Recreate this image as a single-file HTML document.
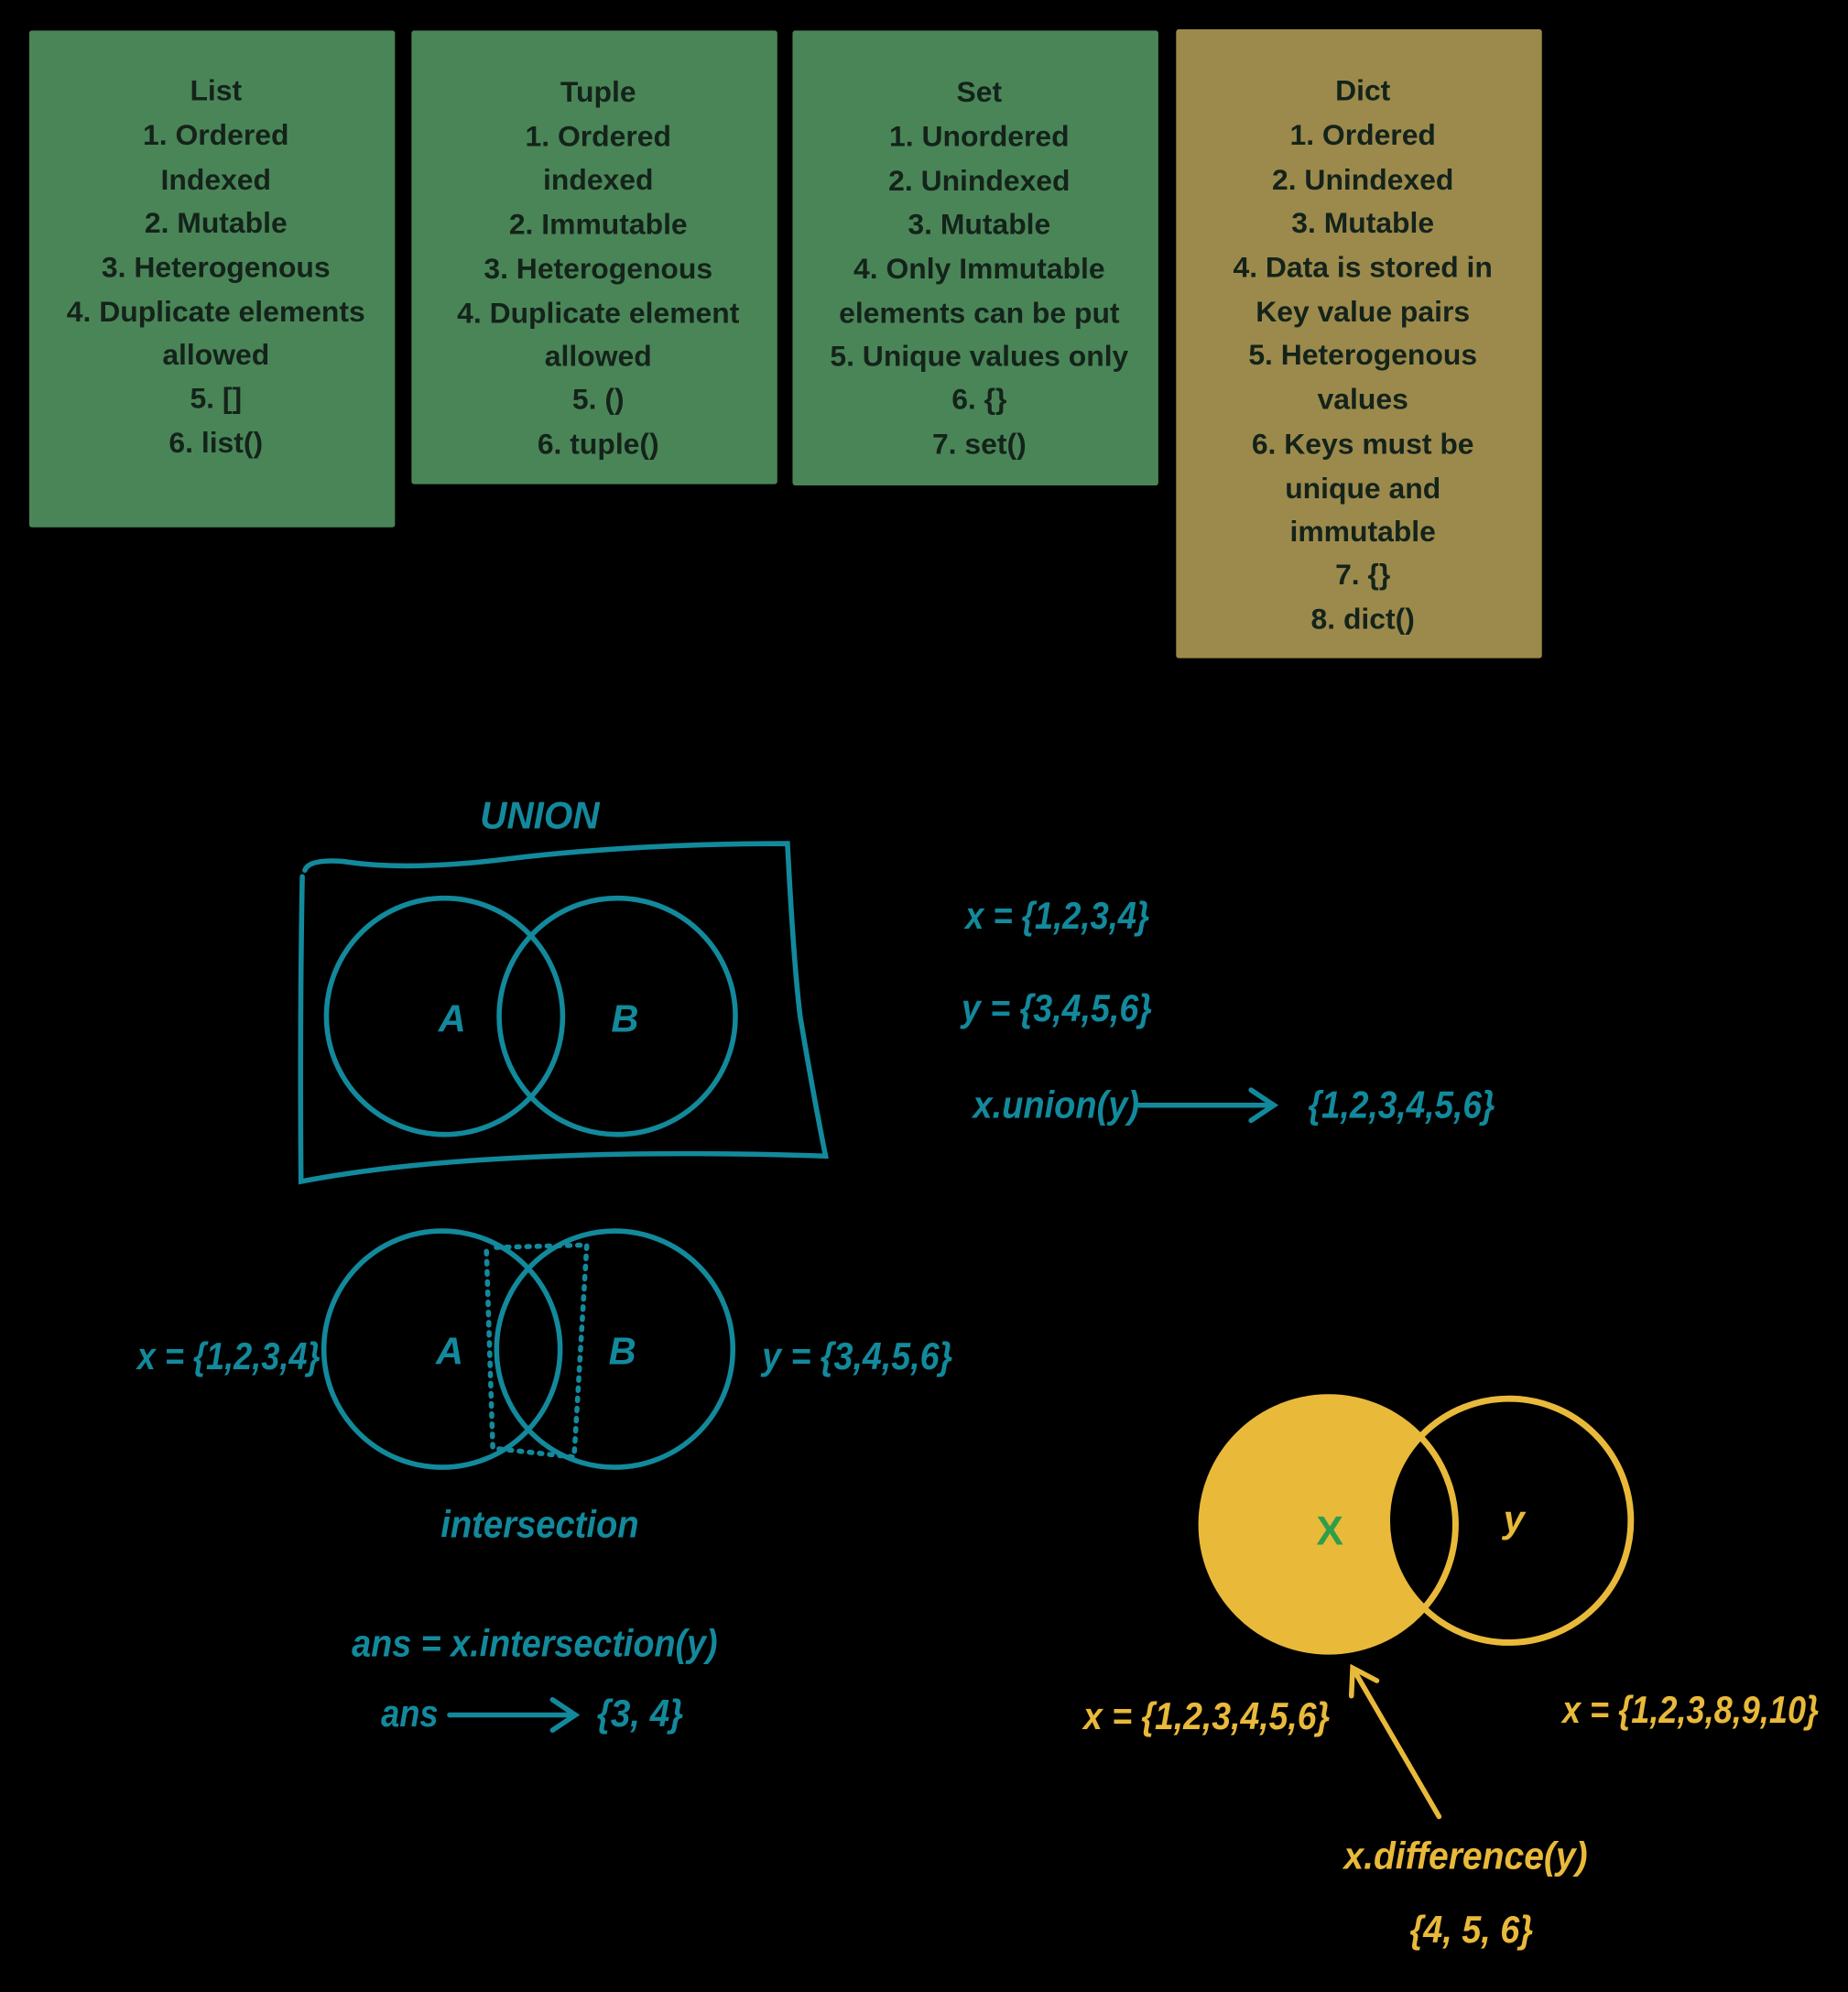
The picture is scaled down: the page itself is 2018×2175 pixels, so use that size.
<!DOCTYPE html>
<html><head><meta charset="utf-8"><style>
html,body{margin:0;padding:0;background:#000;}
svg{display:block}
.b{font-family:"Liberation Sans",sans-serif;font-size:23px;fill:#14231a;text-anchor:middle;font-weight:bold}
.t{font-family:"Liberation Sans",sans-serif;font-size:30px;fill:#13899c;font-weight:bold;font-style:italic}
.y{font-family:"Liberation Sans",sans-serif;font-size:30px;fill:#e9b93a;font-weight:bold;font-style:italic}
</style></head><body>
<svg width="2018" height="2175" viewBox="0 0 1455 1568" xmlns="http://www.w3.org/2000/svg">
<rect width="1455" height="1568" fill="#000"/>
<rect x="23" y="24" width="288" height="391" fill="#4a8558" rx="2"/>
<rect x="324" y="24" width="288" height="357" fill="#4a8558" rx="2"/>
<rect x="624" y="24" width="288" height="358" fill="#4a8558" rx="2"/>
<rect x="926" y="23" width="288" height="495" fill="#9c8a4c" rx="2"/>
<g class="b">
<text x="170" y="79">List</text><text x="170" y="114">1. Ordered</text><text x="170" y="149">Indexed</text><text x="170" y="183">2. Mutable</text><text x="170" y="218">3. Heterogenous</text><text x="170" y="253">4. Duplicate elements</text><text x="170" y="287">allowed</text><text x="170" y="321">5. []</text><text x="170" y="356">6. list()</text>
<text x="471" y="80">Tuple</text><text x="471" y="115">1. Ordered</text><text x="471" y="149">indexed</text><text x="471" y="184">2. Immutable</text><text x="471" y="219">3. Heterogenous</text><text x="471" y="254">4. Duplicate element</text><text x="471" y="288">allowed</text><text x="471" y="322">5. ()</text><text x="471" y="357">6. tuple()</text>
<text x="771" y="80">Set</text><text x="771" y="115">1. Unordered</text><text x="771" y="150">2. Unindexed</text><text x="771" y="184">3. Mutable</text><text x="771" y="219">4. Only Immutable</text><text x="771" y="254">elements can be put</text><text x="771" y="288">5. Unique values only</text><text x="771" y="322">6. {}</text><text x="771" y="357">7. set()</text>
<text x="1073" y="79">Dict</text><text x="1073" y="114">1. Ordered</text><text x="1073" y="149">2. Unindexed</text><text x="1073" y="183">3. Mutable</text><text x="1073" y="218">4. Data is stored in</text><text x="1073" y="253">Key value pairs</text><text x="1073" y="287">5. Heterogenous</text><text x="1073" y="322">values</text><text x="1073" y="357">6. Keys must be</text><text x="1073" y="392">unique and</text><text x="1073" y="426">immutable</text><text x="1073" y="460">7. {}</text><text x="1073" y="495">8. dict()</text>
</g>
<g fill="none" stroke="#13899c" stroke-width="4" stroke-linecap="round">
<path d="M240 685 Q243 676 270 678 Q320 686 400 676 Q500 664 620 664 Q625 760 630 800 Q640 860 650 910 Q500 905 380 913 Q300 918 237 930 Q236 800 238 690"/>
<circle cx="350" cy="800" r="93"/><circle cx="486" cy="800" r="93"/>
<circle cx="348" cy="1062" r="93"/><circle cx="484" cy="1062" r="93"/>
<path d="M383 985 L388 1140 L452 1147 L462 980 L388 982" stroke-dasharray="2 6" stroke-width="4"/>
<path d="M895 870 L1003 870 M985 858 L1003 870 L985 882"/>
<path d="M354 1350 L453 1350 M435 1338 L453 1350 L435 1362"/>
</g>
<text class="t" x="378" y="652" textLength="94" lengthAdjust="spacingAndGlyphs">UNION</text>
<text class="t" x="356" y="812" text-anchor="middle">A</text><text class="t" x="492" y="812" text-anchor="middle">B</text>
<text class="t" x="354" y="1074" text-anchor="middle">A</text><text class="t" x="490" y="1074" text-anchor="middle">B</text>
<text class="t" x="760" y="731" textLength="145" lengthAdjust="spacingAndGlyphs">x = {1,2,3,4}</text>
<text class="t" x="757" y="804" textLength="150" lengthAdjust="spacingAndGlyphs">y = {3,4,5,6}</text>
<text class="t" x="766" y="880" textLength="131" lengthAdjust="spacingAndGlyphs">x.union(y)</text>
<text class="t" x="1030" y="880" textLength="147" lengthAdjust="spacingAndGlyphs">{1,2,3,4,5,6}</text>
<text class="t" x="108" y="1078" textLength="144" lengthAdjust="spacingAndGlyphs">x = {1,2,3,4}</text>
<text class="t" x="600" y="1078" textLength="150" lengthAdjust="spacingAndGlyphs">y = {3,4,5,6}</text>
<text class="t" x="347" y="1210" textLength="156" lengthAdjust="spacingAndGlyphs">intersection</text>
<text class="t" x="277" y="1304" textLength="288" lengthAdjust="spacingAndGlyphs">ans = x.intersection(y)</text>
<text class="t" x="300" y="1359" textLength="45" lengthAdjust="spacingAndGlyphs">ans</text>
<text class="t" x="470" y="1359" textLength="68" lengthAdjust="spacingAndGlyphs">{3, 4}</text>
<circle cx="1046" cy="1200" r="100" fill="#e9b93a"/>
<circle cx="1188" cy="1197" r="96" fill="#000" stroke="#e9b93a" stroke-width="5"/>
<circle cx="1046" cy="1200" r="100" fill="none" stroke="#e9b93a" stroke-width="5"/>
<text x="1047" y="1216" text-anchor="middle" font-family="Liberation Sans,sans-serif" font-size="32" font-weight="bold" fill="#2f9e4a">X</text>
<text class="y" x="1192" y="1206" text-anchor="middle">y</text>
<text class="y" x="853" y="1361" textLength="194" lengthAdjust="spacingAndGlyphs">x = {1,2,3,4,5,6}</text>
<text class="y" x="1230" y="1356" textLength="202" lengthAdjust="spacingAndGlyphs">x = {1,2,3,8,9,10}</text>
<path d="M1133 1430 L1065 1313 M1064 1335 L1065 1313 L1084 1323" fill="none" stroke="#e9b93a" stroke-width="4" stroke-linecap="round"/>
<text class="y" x="1058" y="1471" textLength="192" lengthAdjust="spacingAndGlyphs">x.difference(y)</text>
<text class="y" x="1110" y="1529" textLength="97" lengthAdjust="spacingAndGlyphs">{4, 5, 6}</text>
</svg>
</body></html>
